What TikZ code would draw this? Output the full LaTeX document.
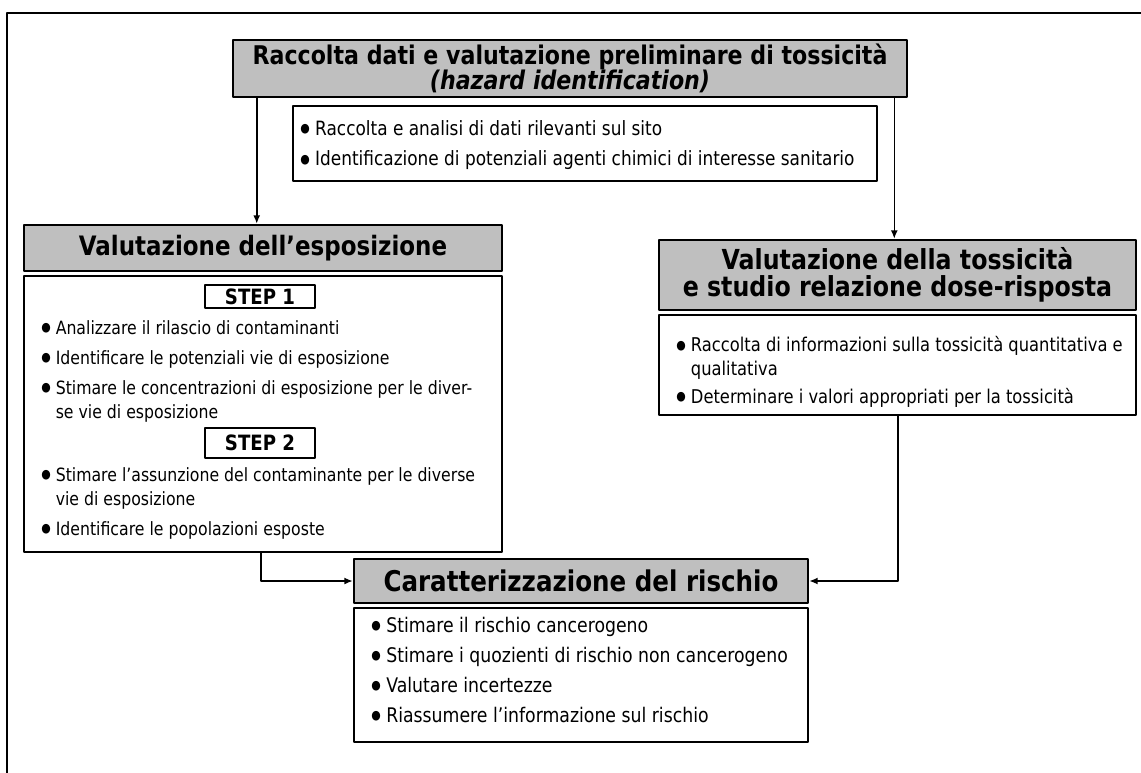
\documentclass[tikz,border=0pt]{standalone}
\usepackage{fontspec}
\setmainfont{DejaVu Sans}[FakeStretch=0.86]
\usetikzlibrary{arrows.meta,calc,positioning}
\newcommand\blt{\raisebox{1.6pt}{\fontsize{9}{9}\selectfont ●}\ }
\newcommand\hng{\hphantom{\blt}}

\begin{document}
\begin{tikzpicture}[x=0.025cm,y=-0.025cm,line join=round,line cap=round,
  wh/.style 2 args={minimum width=#1*0.025cm,minimum height=#2*0.025cm},
  head/.style={draw,line width=1.8pt,fill=black!25,inner sep=0pt,align=center,
    font=\bfseries\fontsize{20.3}{19}\selectfont},
  body/.style={draw,line width=1.3pt,inner sep=0pt},
  stepbox/.style={draw,line width=1.3pt,inner sep=0pt,font=\bfseries\fontsize{15}{16}\selectfont},
  list/.style={anchor=base west,align=left,inner sep=0pt,font=\fontsize{13}{17}\selectfont},
  arr/.style={-{Latex[length=6pt,width=5pt]},line width=1.1pt}]
\useasboundingbox (0,0) rectangle (1141,773);
\draw[line width=1.4pt] (7,773) -- (7,13) -- (1141,13);
% hazard identification
\node[head,wh={674}{57},font=\bfseries\fontsize{18.3}{18}\selectfont] (racc) at (570,68.5)
  {Raccolta dati e valutazione preliminare di tossicità\\ \textit{(hazard identification)}};
\node[body,wh={584}{75}] (raccbody) at (585,143.5) {};
\node[list,font=\fontsize{14}{17}\selectfont] (l1) at (300,166) {\blt Raccolta e analisi di dati rilevanti sul sito\\[5pt]
  \blt Identificazione di potenziali agenti chimici di interesse sanitario};
% esposizione
\node[head,wh={478}{46},font=\bfseries\fontsize{19}{18}\selectfont] (esp) at (263,248) {Valutazione dell’esposizione};
\node[body,wh={478}{276}] (espbody) at (263,414) {};
\node[stepbox,wh={110}{23}] (step1) at (260,296.5) {STEP 1};
\node[list] (l2) at (41,418) {\blt Analizzare il rilascio di contaminanti\\[4.3pt]
  \blt Identificare le potenziali vie di esposizione\\[4.3pt]
  \blt Stimare le concentrazioni di esposizione per le diver-\\
  \hng se vie di esposizione};
\node[stepbox,wh={110}{30}] (step2) at (260,443) {STEP 2};
\node[list] (l3) at (41,535) {\blt Stimare l’assunzione del contaminante per le diverse\\
  \hng vie di esposizione\\[4.3pt]
  \blt Identificare le popolazioni esposte};
% tossicita
\node[head,wh={477}{70},font=\bfseries\fontsize{19.6}{19}\selectfont] (tox) at (897.5,275) {Valutazione della tossicità\\e studio relazione dose-risposta};
\node[body,wh={477}{100}] (toxbody) at (897.5,365) {};
\node[list,font=\fontsize{13.5}{17}\selectfont] (l4) at (676,403) {\blt Raccolta di informazioni sulla tossicità quantitativa e\\
  \hng qualitativa\\[2.5pt]
  \blt Determinare i valori appropriati per la tossicità};
% rischio
\node[head,wh={454}{44}] (risk) at (581,581) {Caratterizzazione del rischio};
\node[body,wh={454}{134}] (riskbody) at (581,675) {};
\node[list,font=\fontsize{14.3}{17}\selectfont] (l5) at (371,722) {\blt Stimare il rischio cancerogeno\\[4.3pt]
  \blt Stimare i quozienti di rischio non cancerogeno\\[4.3pt]
  \blt Valutare incertezze\\[4.3pt]
  \blt Riassumere l’informazione sul rischio};
% connettori
\path (racc.south west) ++(25,0) coordinate (p1);
\path (racc.south east) ++(-14,0) coordinate (p2);
\path (espbody.south west) ++(238,0) coordinate (p3);
\path (toxbody.south west) ++(240,0) coordinate (p4);
\draw[arr] (p1) -- (p1 |- esp.north);
\draw[arr] (p2) -- (p2 |- tox.north);
\draw[arr] (p3) |- (risk.west);
\draw[arr] (p4) |- (risk.east);
\end{tikzpicture}
\end{document}
